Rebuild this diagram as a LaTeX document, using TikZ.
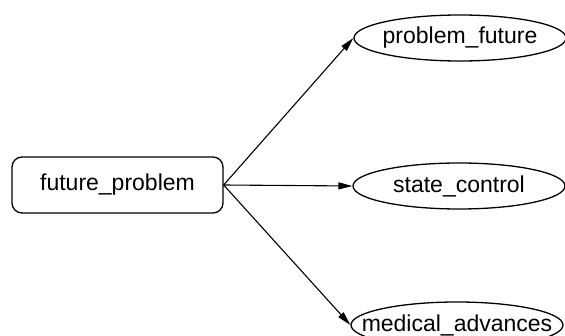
\documentclass[tikz,border=0pt]{standalone}
\usepackage{fontspec}
\setmainfont{Liberation Sans}
\usetikzlibrary{shapes.geometric,arrows.meta}
\begin{document}
\begin{tikzpicture}[x=1pt,y=-1pt,
  every node/.style={font=\fontsize{23}{27}\selectfont},
  srcbox/.style={draw, line width=1.3pt, rounded corners=10pt,
    minimum width=211pt, minimum height=56pt, inner sep=0pt},
  target/.style={draw, ellipse, line width=1.3pt,
    minimum width=212pt, minimum height=46pt, inner sep=0pt},
  link/.style={line width=1.1pt, -{Triangle[length=14pt,width=7pt]}}]
\useasboundingbox (0,0) rectangle (565,336);
\clip (0,0) rectangle (565,336);

\node[srcbox] (fp) at (117.5,185) {future\_problem};
\node[target] (pf) at (460,38)  {\makebox[0pt]{problem\_future}};
\node[target] (sc) at (459,186) {\makebox[0pt]{state\_control}};
\node[target] (ma) at (457,325) {\makebox[0pt]{medical\_advances}};

\draw[link] (fp.east) -- (pf.west);
\draw[link] (fp.east) -- (sc.west);
\draw[link] (fp.east) -- (ma.west);
\end{tikzpicture}
\end{document}
